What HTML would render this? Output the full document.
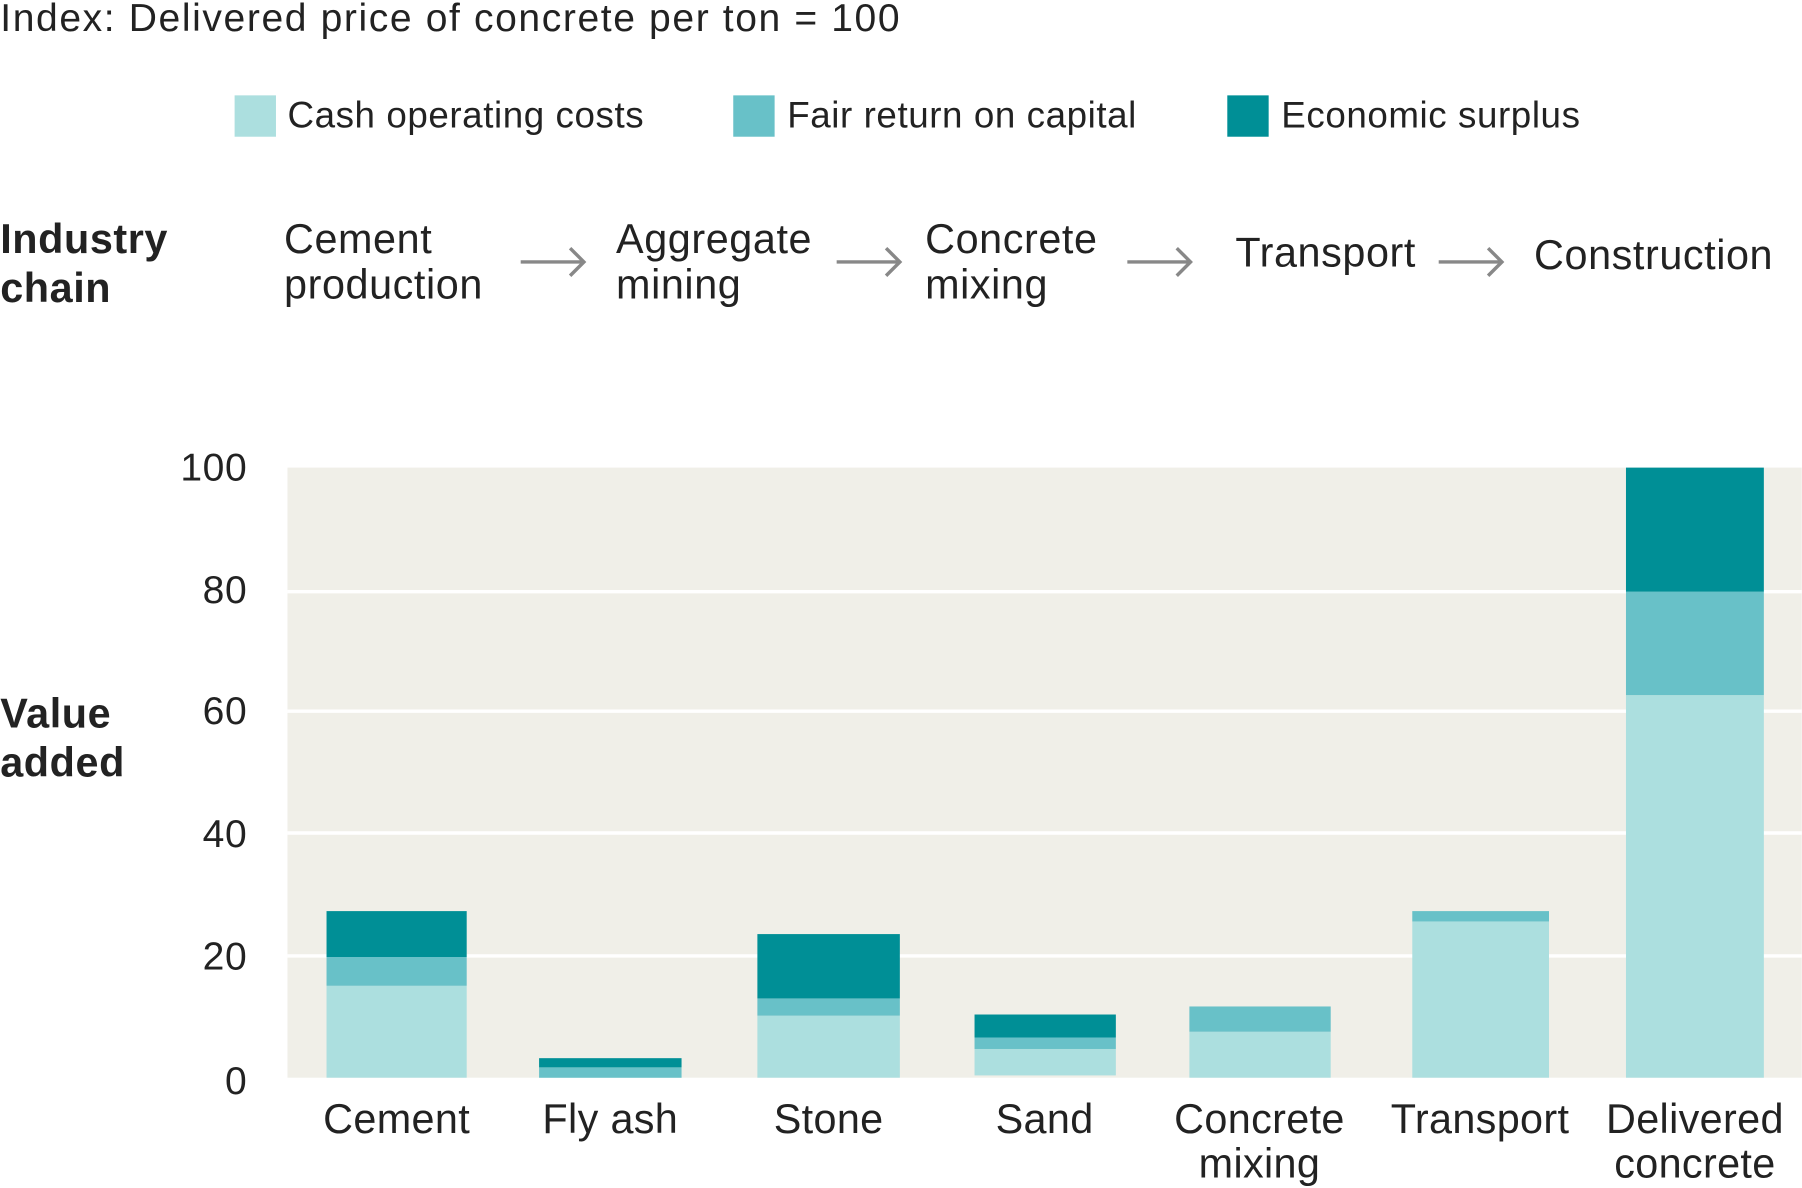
<!DOCTYPE html><html><head><style>body{margin:0;background:#fff}svg{display:block}text{font-family:"Liberation Sans",sans-serif;fill:#222}</style></head><body>
<svg width="1802" height="1188" viewBox="0 0 1568 1034" xmlns="http://www.w3.org/2000/svg">
<text x="0" y="27" font-size="34" letter-spacing="1.4">Index: Delivered price of concrete per ton = 100</text>
<rect x="204" y="83" width="36" height="36" fill="#acdfdf"/><text x="250" y="111" font-size="32" letter-spacing="0.5">Cash operating costs</text>
<rect x="638" y="83" width="36" height="36" fill="#68c1c8"/><text x="685" y="111" font-size="32" letter-spacing="0.5">Fair return on capital</text>
<rect x="1068" y="83" width="36" height="36" fill="#008f96"/><text x="1115" y="111" font-size="32" letter-spacing="0.5">Economic surplus</text>
<g font-size="36" letter-spacing="0.5"><text x="0" y="220" font-weight="bold">Industry</text><text x="0" y="263" font-weight="bold">chain</text>
<text x="247" y="220">Cement</text><text x="247" y="260">production</text>
<text x="536" y="220">Aggregate</text><text x="536" y="260">mining</text>
<text x="805" y="220">Concrete</text><text x="805" y="260">mixing</text>
<text x="1075" y="232">Transport</text><text x="1335" y="234">Construction</text>
<text x="0" y="633" font-weight="bold">Value</text><text x="0" y="676" font-weight="bold">added</text></g>
<g stroke="#888" stroke-width="3" fill="none">
<path d="M453 228H508M496 216L508 228L496 240"/><path d="M728 228H783M771 216L783 228L771 240"/><path d="M981 228H1036M1024 216L1036 228L1024 240"/><path d="M1252 228H1307M1295 216L1307 228L1295 240"/></g>
<rect x="250" y="407" width="1318" height="531" fill="#f0efe8"/>
<g stroke="#fff" stroke-width="3"><line x1="250" x2="1568" y1="515" y2="515"/><line x1="250" x2="1568" y1="619" y2="619"/><line x1="250" x2="1568" y1="725" y2="725"/><line x1="250" x2="1568" y1="832" y2="832"/></g>
<g font-size="34" text-anchor="end" letter-spacing="0.5"><text x="215" y="418">100</text><text x="215" y="525">80</text><text x="215" y="630">60</text><text x="215" y="737">40</text><text x="215" y="844">20</text><text x="215" y="952">0</text></g>
<g>
<rect x="284" y="858" width="122" height="80" fill="#acdfdf"/><rect x="284" y="833" width="122" height="25" fill="#68c1c8"/><rect x="284" y="793" width="122" height="40" fill="#008f96"/>
<rect x="469" y="937" width="124" height="1" fill="#acdfdf"/><rect x="469" y="929" width="124" height="9" fill="#68c1c8"/><rect x="469" y="921" width="124" height="8" fill="#008f96"/>
<rect x="659" y="884" width="124" height="54" fill="#acdfdf"/><rect x="659" y="869" width="124" height="15" fill="#68c1c8"/><rect x="659" y="813" width="124" height="56" fill="#008f96"/>
<rect x="848" y="913" width="123" height="23" fill="#acdfdf"/><rect x="848" y="903" width="123" height="10" fill="#68c1c8"/><rect x="848" y="883" width="123" height="20" fill="#008f96"/>
<rect x="1035" y="898" width="123" height="40" fill="#acdfdf"/><rect x="1035" y="876" width="123" height="22" fill="#68c1c8"/>
<rect x="1229" y="802" width="119" height="136" fill="#acdfdf"/><rect x="1229" y="793" width="119" height="9" fill="#68c1c8"/>
<rect x="1415" y="605" width="120" height="333" fill="#acdfdf"/><rect x="1415" y="515" width="120" height="90" fill="#68c1c8"/><rect x="1415" y="407" width="120" height="108" fill="#008f96"/>
</g>
<g font-size="36" text-anchor="middle" letter-spacing="0.3"><text x="345" y="986">Cement</text><text x="531" y="986">Fly ash</text><text x="721" y="986">Stone</text><text x="909" y="986">Sand</text><text x="1096" y="986">Concrete</text><text x="1096" y="1025">mixing</text><text x="1288" y="986">Transport</text><text x="1475" y="986">Delivered</text><text x="1475" y="1025">concrete</text></g>
</svg></body></html>
